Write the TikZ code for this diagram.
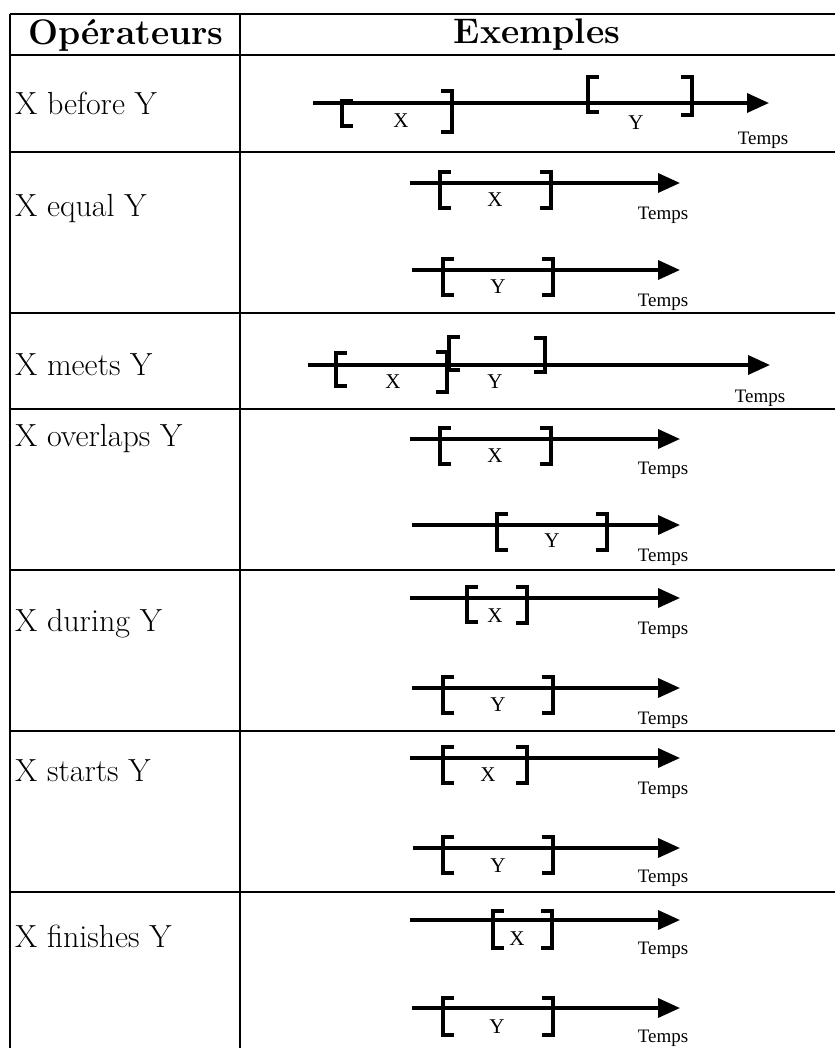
\documentclass[tikz,border=0pt]{standalone}
\usepackage{fontspec}
\newfontfamily\timesfont{Liberation Serif}
\usetikzlibrary{arrows.meta}

\tikzset{
  grid line/.style={line width=2.5pt},
  time line/.style={line width=3.5pt, -{Triangle[length=22pt,width=19pt]}},
  bracket/.style={line width=3.2pt},
  op label/.style={anchor=west, inner sep=0pt, font=\fontsize{32}{36}\selectfont},
  head label/.style={inner sep=0pt, font=\fontsize{35.5}{40}\selectfont\bfseries},
  var label/.style={inner sep=0pt, font=\timesfont\fontsize{21}{24}\selectfont},
  temps label/.style={inner sep=0pt, font=\timesfont\fontsize{19}{22}\selectfont},
}

% #1 name, #2 y, #3 start, #4 tip
\newcommand{\timeline}[4]{%
  \coordinate (#1s) at (#3,#2);
  \coordinate (#1e) at (#4,#2);
  \draw[time line] (#1s) -- (#1e);}
% #1 x, #2 y, #3 above, #4 below
\newcommand{\openbr}[4]{\draw[bracket] (#1+11,#2-#3) -- (#1,#2-#3) -- (#1,#2+#4) -- (#1+11,#2+#4);}
\newcommand{\closebr}[4]{\draw[bracket] (#1-11,#2-#3) -- (#1,#2-#3) -- (#1,#2+#4) -- (#1-11,#2+#4);}

\begin{document}
\begin{tikzpicture}[x=1pt, y=-1pt]
\useasboundingbox (0,0) rectangle (835,1048);

\foreach \y in {14,55,152,313,409,570,731,892}
  \draw[grid line] (10,\y) -- (835,\y);
\draw[grid line] (10,14) -- (10,1048);
\draw[grid line] (240,14) -- (240,1048);

\node[head label] (hop) at (126,35) {Opérateurs};
\node[head label] (hex) at (537,35) {Exemples};

\node[op label] (before) at (15,103) {X before Y};
\node[op label] (equal) at (15,209) {X equal Y};
\node[op label] (meets) at (15,365) {X meets Y};
\node[op label] (overlaps) at (15,439) {X overlaps Y};
\node[op label] (during) at (15,624) {X during Y};
\node[op label] (starts) at (15,771) {X starts Y};
\node[op label] (finishes) at (15,936) {X finishes Y};

% before
\timeline{bf}{103}{313}{769}
\openbr{342}{103}{2}{23} \closebr{452}{103}{12}{29}
\openbr{588}{103}{26}{9} \closebr{692}{103}{26}{12}
\node[var label] (bfx) at (401,121) {X};
\node[var label] (bfy) at (636,123) {Y};
\node[temps label] (bft) at (763,140) {Temps};

% equal
\timeline{eqa}{183}{410}{680}
\openbr{440}{183}{11}{25} \closebr{551}{183}{11}{25}
\node[var label] (eqx) at (495,200) {X};
\node[temps label] (eqat) at (663,215) {Temps};
\timeline{eqb}{270}{412}{680}
\openbr{443}{270}{11}{25} \closebr{553}{270}{11}{25}
\node[var label] (eqy) at (498,287) {Y};
\node[temps label] (eqbt) at (663,302) {Temps};

% meets
\timeline{mt}{365}{308}{770}
\openbr{336}{365}{12}{21} \closebr{447}{365}{13}{27}
\openbr{449}{365}{28}{5} \closebr{545}{365}{27}{7}
\node[var label] (mtx) at (393,382) {X};
\node[var label] (mty) at (495,382) {Y};
\node[temps label] (mtt) at (760,398) {Temps};

% overlaps
\timeline{ova}{439}{410}{680}
\openbr{440}{439}{11}{25} \closebr{551}{439}{11}{25}
\node[var label] (ovx) at (495,456) {X};
\node[temps label] (ovat) at (663,470) {Temps};
\timeline{ovb}{525}{412}{680}
\openbr{497}{525}{11}{25} \closebr{607}{525}{11}{25}
\node[var label] (ovy) at (552,541) {Y};
\node[temps label] (ovbt) at (663,557) {Temps};

% during
\timeline{dra}{598}{410}{680}
\openbr{467}{598}{11}{24} \closebr{527}{598}{11}{25}
\node[var label] (drx) at (495,616) {X};
\node[temps label] (drat) at (663,630) {Temps};
\timeline{drb}{688}{412}{680}
\openbr{443}{688}{11}{25} \closebr{553}{688}{11}{25}
\node[var label] (dry) at (498,705) {Y};
\node[temps label] (drbt) at (663,720) {Temps};

% starts
\timeline{sta}{758}{410}{680}
\openbr{443}{758}{11}{25} \closebr{527}{758}{11}{25}
\node[var label] (stx) at (488,775) {X};
\node[temps label] (stat) at (663,790) {Temps};
\timeline{stb}{848}{413}{680}
\openbr{443}{848}{11}{25} \closebr{553}{848}{11}{25}
\node[var label] (sty) at (498,866) {Y};
\node[temps label] (stbt) at (663,878) {Temps};

% finishes
\timeline{fna}{920}{410}{680}
\openbr{493}{920}{9}{28} \closebr{552}{920}{9}{28}
\node[var label] (fnx) at (517,939) {X};
\node[temps label] (fnat) at (663,950) {Temps};
\timeline{fnb}{1008}{412}{680}
\openbr{443}{1008}{10}{27} \closebr{553}{1008}{10}{27}
\node[var label] (fny) at (497,1027) {Y};
\node[temps label] (fnbt) at (663,1038) {Temps};

\end{tikzpicture}
\end{document}
